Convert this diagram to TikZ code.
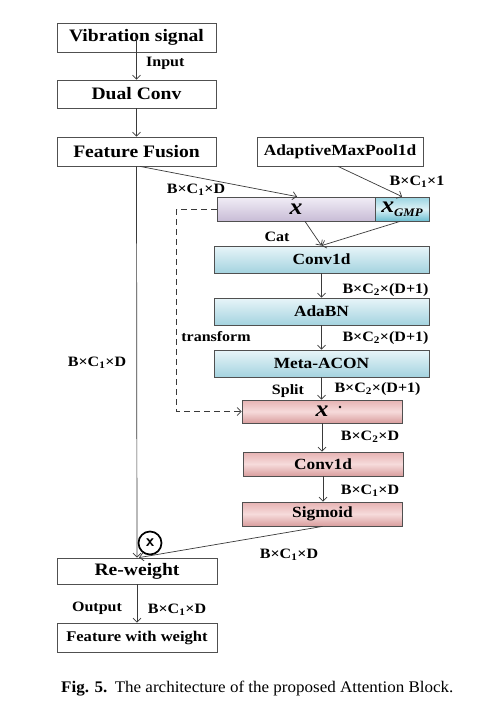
\documentclass[tikz,border=0pt]{standalone}
\usepackage{fontspec}
\setmainfont[FakeStretch=1.12]{Liberation Serif}
\newfontfamily\capfont[FakeStretch=1.05]{Liberation Serif}
\usetikzlibrary{arrows.meta}
\definecolor{linegray}{HTML}{3A3A3A}
\definecolor{boxgray}{HTML}{505050}
\definecolor{purT}{HTML}{F1EDF6}
\definecolor{purB}{HTML}{C8BCD6}
\definecolor{bluT}{HTML}{E8F5F9}
\definecolor{bluB}{HTML}{A4D3DF}
\definecolor{pinT}{HTML}{E6B2B2}
\definecolor{pinM}{HTML}{F6DBDB}
\definecolor{pinB}{HTML}{D99E9E}
\definecolor{gmpT}{HTML}{9AD4E1}
\definecolor{gmpM}{HTML}{DDF2F6}
\definecolor{gmpB}{HTML}{6CBED1}
\newcommand\dimlab[2]{B×C\textsubscript{#1}×#2}
\begin{document}
\begin{tikzpicture}[x=1pt,y=-1pt,
  wbox/.style={draw=boxgray, line width=0.8pt, fill=white, inner sep=0pt,
    font=\bfseries\fontsize{17.5}{17.5}\selectfont},
  rbox/.style={draw=boxgray, line width=0.8pt, inner sep=0pt,
    font=\bfseries\fontsize{15.5}{15.5}\selectfont},
  bluebox/.style={rbox, top color=bluT, bottom color=bluB, minimum width=215pt, minimum height=27pt},
  pinkbox/.style={rbox, top color=pinT, bottom color=pinB, middle color=pinM, minimum width=160pt, minimum height=24pt},
  lbl/.style={font=\bfseries\fontsize{14.3}{14.3}\selectfont, inner sep=0pt},
  xtxt/.style={font=\bfseries\itshape\fontsize{23}{23}\selectfont},
  arr/.style={draw=linegray, line width=0.7pt, -{Straight Barb[length=4pt,width=8pt]}},
  ln/.style={draw=linegray, line width=0.7pt}
]
\useasboundingbox (0,0) rectangle (492,712);
\fill[white] (0,0) rectangle (492,712);

% left column
\node[wbox, minimum width=159pt, minimum height=29pt] (vib) at (136.5,37.5) {Vibration signal};
\node[wbox, minimum width=159pt, minimum height=28pt] (dual) at (136.5,94) {Dual Conv};
\node[wbox, minimum width=159pt, minimum height=29pt] (ff) at (136.5,151.5) {Feature Fusion};
\node[wbox, minimum width=160pt, minimum height=26pt] (rew) at (137,571) {Re-weight};
\node[wbox, minimum width=160pt, minimum height=29pt, font=\bfseries\fontsize{14.8}{14.8}\selectfont] (fww) at (137,637.5) {Feature with weight};

% right column
\node[wbox, minimum width=166pt, minimum height=29pt, font=\bfseries\fontsize{15.5}{15.5}\selectfont] (amp) at (340,151.5) {AdaptiveMaxPool1d};
\node[rbox, top color=purT, bottom color=purB, minimum width=158pt, minimum height=24pt, xtxt] (xbar) at (296,209) {x};
\node[rbox, top color=gmpT, bottom color=gmpB, middle color=gmpM, minimum width=54pt, minimum height=24pt, xtxt]
  (xgmp) at (402,209) {x\raisebox{-4pt}{\fontsize{11.5}{11.5}\selectfont GMP}};
\node[bluebox] (conv1) at (321.5,259.5) {Conv1d};
\node[bluebox] (adabn) at (321.5,311.5) {AdaBN};
\node[bluebox] (meta) at (321.5,363.5) {Meta-ACON};
\node[pinkbox, minimum height=23pt, xtxt] (xpink) at (322,411.5) {x};
\node[pinkbox] (conv2) at (323,464) {Conv1d};
\node[pinkbox] (sig) at (322.5,514) {Sigmoid};
\fill[black] (340,407) circle (1.3pt);

% multiply symbol
\node[draw=black, line width=1.7pt, circle, minimum size=23pt, inner sep=0pt,
  font=\sffamily\bfseries\fontsize{17}{17}\selectfont] (mul) at (150,543) {x};

% connectors
\draw[arr] (vib.center) -- (dual.north);
\draw[arr] (dual.south) -- (ff.north);
\draw[arr] (ff.south) -- (rew.north);
\draw[arr] ([xshift=3.5pt]ff.south) -- ([xshift=1pt]xbar.north);
\draw[arr] ([xshift=-2pt]amp.south) -- (xgmp.north);
\draw[arr] ([xshift=9pt]xbar.south) -- (conv1.north);
\draw[arr] ([xshift=-2pt]xgmp.south) -- (conv1.north);
\draw[arr] (conv1.south) -- (adabn.north);
\draw[arr] (adabn.south) -- (meta.north);
\draw[arr] (meta.south) -- (meta.south |- xpink.north);
\draw[arr] (xpink.south) -- (xpink.south |- conv2.north);
\draw[arr] (conv2.south) -- (conv2.south |- sig.north);
\draw[arr, dash pattern=on 6pt off 4pt] (xbar.west) -- ++(-40,0) |- (xpink.west);
\draw[arr] (sig.south) -- ([xshift=2pt]rew.north);
\draw[arr] (rew.south) -- (fww.north);

% labels
\node[lbl, anchor=west] (linput) at (146,63) {Input};
\node[lbl] (l1) at (196,190) {\dimlab{1}{D}};
\node[lbl] (l2) at (417,182) {\dimlab{1}{1}};
\node[lbl] (lcat) at (277,237) {Cat};
\node[lbl] (l3) at (385.5,290) {\dimlab{2}{(D+1)}};
\node[lbl] (l4) at (385.5,338) {\dimlab{2}{(D+1)}};
\node[lbl] (ltr) at (216,337) {transform};
\node[lbl] (lsplit) at (288,391) {Split};
\node[lbl] (l5) at (377.5,389) {\dimlab{2}{(D+1)}};
\node[lbl] (l6) at (370,437) {\dimlab{2}{D}};
\node[lbl] (l7) at (370,491) {\dimlab{1}{D}};
\node[lbl] (l8) at (289,555) {\dimlab{1}{D}};
\node[lbl] (lleft) at (97,363) {\dimlab{1}{D}};
\node[lbl] (lout) at (97,608) {Output};
\node[lbl] (l9) at (177,610) {\dimlab{1}{D}};

% caption
\node[anchor=west, inner sep=0pt, font=\capfont\fontsize{16.2}{16.2}\selectfont] (cap) at (61,689)
  {\textbf{Fig. 5.}\hspace{0.45em}The architecture of the proposed Attention Block.};
\end{tikzpicture}
\end{document}
